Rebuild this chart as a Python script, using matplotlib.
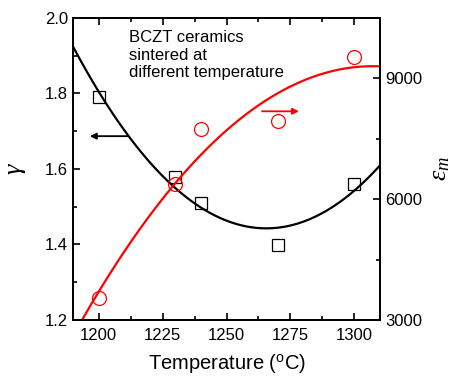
import numpy as np
import matplotlib
matplotlib.use("Agg")
import matplotlib.pyplot as plt
from matplotlib.ticker import MultipleLocator

plt.rcParams['font.family'] = ['Liberation Sans', 'DejaVu Sans']
plt.rcParams['mathtext.fontset'] = 'custom'
plt.rcParams['mathtext.rm'] = 'Liberation Serif'
plt.rcParams['mathtext.it'] = 'Liberation Serif:italic'

temp = [1200, 1230, 1240, 1270, 1300]
gamma = [1.79, 1.58, 1.51, 1.40, 1.56]
eps_m = [3545, 6372, 7736, 7934, 9521]

fig = plt.figure(figsize=(4.62, 3.78), dpi=100)
ax = fig.add_axes([73/462, 1-320/378, 307/462, 302/378])
ax2 = ax.twinx()

tfit = np.linspace(1190, 1310, 200)
cg = np.polyfit(temp, gamma, 2)
ce = np.polyfit(temp, eps_m, 2)

ax.plot(tfit, np.polyval(cg, tfit), color='black', lw=1.6)
ax.plot(temp, gamma, ls='none', marker='s', ms=8, mfc='none', mec='black', mew=0.9)
ax2.plot(tfit, np.polyval(ce, tfit), color='red', lw=1.6)
ax2.plot(temp, eps_m, ls='none', marker='o', ms=10, mfc='none', mec='red', mew=0.9)

ax.set_xlim(1190, 1310)
ax.set_ylim(1.2, 2.0)
ax2.set_ylim(3000, 10500)

ax.xaxis.set_major_locator(MultipleLocator(25))
ax.xaxis.set_minor_locator(MultipleLocator(12.5))
ax.yaxis.set_major_locator(MultipleLocator(0.2))
ax.yaxis.set_minor_locator(MultipleLocator(0.1))
ax2.yaxis.set_major_locator(MultipleLocator(3000))
ax2.yaxis.set_minor_locator(MultipleLocator(1500))

ax.tick_params(which='both', direction='in', top=True, labelsize=12, width=1.2)
ax.tick_params(which='major', length=5)
ax.tick_params(which='minor', length=3)
ax.tick_params(axis='x', pad=6)
ax.tick_params(axis='y', right=False)
ax2.tick_params(which='both', direction='in', labelsize=12, width=1.2)
ax2.tick_params(which='major', length=5)
ax2.tick_params(which='minor', length=3)
for a in (ax, ax2):
    for s in a.spines.values():
        s.set_linewidth(1.3)

ax.set_xlabel('Temperature ($\\mathregular{^o}$C)', fontsize=14.5, labelpad=6)
ax.set_ylabel('$\\gamma$', fontsize=19, labelpad=12)
ax2.set_ylabel('$\\varepsilon_m$', fontsize=19, labelpad=4)

ax.text(1211.7, 1.967, 'BCZT ceramics\nsintered at\ndifferent temperature',
        fontsize=12, va='top', ha='left', linespacing=1.2)

ax.annotate('', xy=(1195.5, 1.687), xytext=(1212.6, 1.687),
            arrowprops=dict(arrowstyle='-|>', color='black', lw=1.3, mutation_scale=9))
ax2.annotate('', xy=(1279.4, 8183), xytext=(1262.8, 8183),
             arrowprops=dict(arrowstyle='-|>', color='red', lw=1.3, mutation_scale=9))

fig.savefig('out.png', dpi=100)
